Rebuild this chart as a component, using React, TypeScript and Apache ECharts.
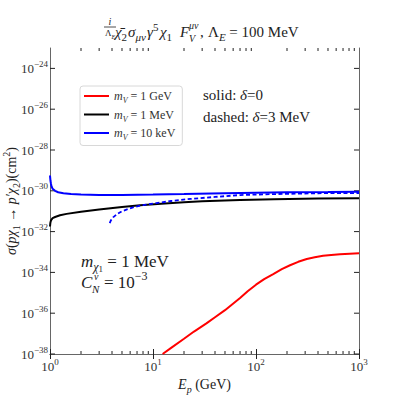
import { useEffect, useRef } from 'react';
import * as echarts from 'echarts';

const FONT = '"Liberation Serif", "DejaVu Serif", serif';
const INK = '#222';

// axis ranges
const X_MIN = 1;
const X_MAX = 1000;
const Y_MIN = 1e-38;
const Y_MAX = 1e-23;

// labelled decades on the cross-section axis
const yTickExponents = [-38, -36, -34, -32, -30, -28, -26, -24];

// minor tick positions on the energy axis
const minorTickValues = [2, 3, 4, 5, 6, 7, 8, 9, 20, 30, 40, 50, 60, 70, 80, 90, 200, 300, 400, 500, 600, 700, 800, 900];

// legend
const massLabels = ['1 GeV', '1 MeV', '10 keV'];
const seriesNames = ['m_V = 1 GeV', 'm_V = 1 MeV', 'm_V = 10 keV'];

// m_V = 1 GeV, solid (delta = 0)
const red_E = [12.4, 15, 20, 25, 33, 40, 50, 70, 83, 100, 120, 147, 178, 214, 257, 311, 372, 448, 537, 654, 813, 1000];
const red_sigma = [1e-38, 2.0e-38, 5.6e-38, 1.26e-37, 3.16e-37, 6.3e-37, 1.41e-36, 5.6e-36, 1.2e-35, 2.5e-35, 4.7e-35, 8.3e-35, 1.45e-34, 2.24e-34, 3.3e-34, 4.5e-34, 5.5e-34, 6.5e-34, 7.2e-34, 7.8e-34, 8.3e-34, 8.7e-34];

// m_V = 1 MeV, solid
const black_E = [1.0, 1.005, 1.01, 1.02, 1.03, 1.06, 1.12, 1.25, 1.45, 2, 3, 5, 7.5, 12, 20, 30, 70, 150, 400, 1000];
const black_sigma = [1.78e-32, 2.34e-32, 2.8e-32, 3.4e-32, 3.8e-32, 4.6e-32, 5.2e-32, 6.3e-32, 7.4e-32, 9.5e-32, 1.2e-31, 1.62e-31, 1.95e-31, 2.34e-31, 2.75e-31, 3.1e-31, 3.55e-31, 3.9e-31, 4.17e-31, 4.37e-31];

// m_V = 10 keV, solid
const blue_E = [1.0, 1.005, 1.01, 1.02, 1.03, 1.06, 1.12, 1.2, 1.35, 1.6, 2, 3, 5, 10, 20, 50, 100, 200, 500, 1000];
const blue_sigma = [5.6e-30, 4.2e-30, 3.2e-30, 2.35e-30, 1.8e-30, 1.26e-30, 1.0e-30, 8.5e-31, 7.6e-31, 6.9e-31, 6.6e-31, 6.3e-31, 6.3e-31, 6.5e-31, 6.9e-31, 7.6e-31, 8.1e-31, 8.5e-31, 8.7e-31, 8.9e-31];

// m_V = 10 keV, dashed (delta = 3 MeV)
const blueDashed_E = [3.8, 3.9, 4.1, 4.5, 5, 6.4, 8, 10.8, 15, 23, 40, 70, 150, 400, 1000];
const blueDashed_sigma = [2.63e-32, 3.55e-32, 5.0e-32, 7.4e-32, 1.0e-31, 1.55e-31, 2.0e-31, 2.5e-31, 3.16e-31, 4.0e-31, 5.0e-31, 6.2e-31, 6.9e-31, 7.6e-31, 7.8e-31];

const zip = (a: number[], b: number[]) => a.map((v, i) => [v, b[i]]);

function rich(size: number, color = INK, subRatio = 0.7) {
  const lh = Math.round(size * 1.4);
  const small = Math.round(size * subRatio);
  const slh = Math.round(size * 0.75);
  return {
    n: { fontFamily: FONT, fontSize: size, color, lineHeight: lh },
    i: { fontFamily: FONT, fontSize: size, color, fontStyle: 'italic', lineHeight: lh },
    s: { fontFamily: FONT, fontSize: small, color, fontStyle: 'italic', lineHeight: slh, verticalAlign: 'bottom' },
    sn: { fontFamily: FONT, fontSize: small, color, lineHeight: slh, verticalAlign: 'bottom' },
    ss: { fontFamily: FONT, fontSize: Math.round(small * 0.75), color, lineHeight: Math.round(slh * 0.7), verticalAlign: 'bottom' },
    p: { fontFamily: FONT, fontSize: small, color, lineHeight: slh, verticalAlign: 'top' },
    pi: { fontFamily: FONT, fontSize: small, color, fontStyle: 'italic', lineHeight: slh, verticalAlign: 'top' },
  };
}

function textEl(x: number, y: number, text: string, size: number, align = 'left') {
  return {
    type: 'text',
    x,
    y,
    silent: true,
    style: { text, rich: rich(size), fill: INK, font: `${size}px ${FONT}`, align, verticalAlign: 'middle' },
  };
}

export default function App() {
  const ref = useRef<HTMLDivElement>(null);
  useEffect(() => {
    if (!ref.current) return;
    const chart = echarts.init(ref.current, null, { renderer: 'svg' });
    const tickLabelRich = rich(13, '#333');
    const axisCommon = {
      axisLine: { show: true, lineStyle: { color: '#666', width: 1 } },
      axisTick: { show: true, inside: true, length: 5, lineStyle: { color: INK, width: 1 } },
      splitLine: { show: false },
      minorTick: { show: false },
    };
    const lineCommon = { type: 'line', symbol: 'none', smooth: false };
    const option: any = {
      animation: false,
      backgroundColor: '#fff',
      grid: { left: 50, right: 40, top: 48, bottom: 45, containLabel: false, outerBoundsMode: 'none' },
      xAxis: [
        {
          type: 'log',
          logBase: 10,
          min: X_MIN,
          max: X_MAX,
          position: 'bottom',
          ...axisCommon,
          axisLabel: {
            margin: 3,
            rich: tickLabelRich,
            formatter: (v: number) => `{n|10}{p|${Math.round(Math.log10(v))}}`,
          },
          name: '{i|E}{s|p}{n| (GeV)}',
          nameLocation: 'middle',
          nameGap: 20,
          nameTextStyle: { rich: rich(14) },
        },
        {
          type: 'log',
          logBase: 10,
          min: X_MIN,
          max: X_MAX,
          position: 'top',
          ...axisCommon,
          axisLabel: { show: false },
        },
      ],
      yAxis: [
        {
          type: 'log',
          logBase: 10,
          min: Y_MIN,
          max: Y_MAX,
          position: 'left',
          axisLine: axisCommon.axisLine,
          axisTick: { show: false },
          axisLabel: { show: false },
          splitLine: { show: false },
          name: '{i|σ}{n|(}{i|pχ}{sn|1}{n| → }{i|p′χ}{sn|2}{n|)(cm}{p|2}{n|)}',
          nameLocation: 'middle',
          nameGap: 29,
          nameRotate: 90,
          nameTextStyle: { rich: rich(14) },
        },
        {
          type: 'log',
          logBase: 10,
          min: Y_MIN,
          max: Y_MAX,
          position: 'right',
          axisLine: axisCommon.axisLine,
          axisTick: { show: false },
          axisLabel: { show: false },
          splitLine: { show: false },
        },
      ],
      legend: {
        left: 80,
        top: 86,
        orient: 'vertical',
        data: seriesNames,
        icon: 'rect',
        itemWidth: 25,
        itemHeight: 2,
        itemGap: 4,
        padding: [4, 7, 4, 4],
        borderColor: '#d8d8d8',
        borderWidth: 1,
        borderRadius: 3,
        backgroundColor: '#fff',
        selectedMode: false,
        formatter: (name: string) => {
          const idx = seriesNames.indexOf(name);
          return `{i|m}{s|V}{n| = ${massLabels[idx]}}`;
        },
        textStyle: { rich: rich(12, '#333') },
      },
      series: [
        {
          ...lineCommon,
          name: seriesNames[0],
          data: zip(red_E, red_sigma),
          lineStyle: { color: '#ff0000', width: 2 },
          itemStyle: { color: '#ff0000' },
        },
        {
          ...lineCommon,
          name: seriesNames[1],
          data: zip(black_E, black_sigma),
          lineStyle: { color: '#000000', width: 2 },
          itemStyle: { color: '#000000' },
        },
        {
          ...lineCommon,
          name: 'm_V = 10 keV (δ = 3 MeV)',
          data: zip(blueDashed_E, blueDashed_sigma),
          lineStyle: { color: '#0000ff', width: 1.8, type: [4, 2.5] },
          itemStyle: { color: '#0000ff' },
        },
        {
          ...lineCommon,
          name: seriesNames[2],
          data: zip(blue_E, blue_sigma),
          lineStyle: { color: '#0000ff', width: 2 },
          itemStyle: { color: '#0000ff' },
        },
        {
          name: 'x minor ticks',
          type: 'custom',
          silent: true,
          xAxisIndex: 0,
          yAxisIndex: 0,
          data: minorTickValues.map((v) => [v, Y_MIN]),
          renderItem: (params: any, api: any) => {
            const v = api.value(0);
            const b = api.coord([v, Y_MIN]);
            const t = api.coord([v, Y_MAX]);
            return {
              type: 'group',
              children: [
                { type: 'line', shape: { x1: b[0], y1: b[1], x2: b[0], y2: b[1] - 3 }, style: { stroke: INK, lineWidth: 1 } },
                { type: 'line', shape: { x1: t[0], y1: t[1], x2: t[0], y2: t[1] + 3 }, style: { stroke: INK, lineWidth: 1 } },
              ],
            };
          },
        },
        {
          name: 'y ticks',
          type: 'custom',
          silent: true,
          xAxisIndex: 0,
          yAxisIndex: 0,
          data: yTickExponents.map((e) => [X_MIN, Math.pow(10, e), e]),
          renderItem: (params: any, api: any) => {
            const yv = api.value(1);
            const e = api.value(2);
            const l = api.coord([X_MIN, yv]);
            const r = api.coord([X_MAX, yv]);
            return {
              type: 'group',
              children: [
                { type: 'line', shape: { x1: l[0], y1: l[1], x2: l[0] + 5, y2: l[1] }, style: { stroke: INK, lineWidth: 1 } },
                { type: 'line', shape: { x1: r[0], y1: r[1], x2: r[0] - 5, y2: r[1] }, style: { stroke: INK, lineWidth: 1 } },
                {
                  type: 'text',
                  x: l[0] - 2,
                  y: l[1],
                  style: {
                    text: `{n|10}{p|\u2212${-e}}`,
                    rich: tickLabelRich,
                    font: `13px ${FONT}`,
                    fill: '#333',
                    align: 'right',
                    verticalAlign: 'middle',
                  },
                },
              ],
            };
          },
        },
      ],
      graphic: [
        // title: fraction i / Lambda_E
        { type: 'text', x: 110, y: 21, silent: true, style: { text: 'i', font: `italic 10px ${FONT}`, fill: INK, align: 'center', verticalAlign: 'middle' } },
        { type: 'line', silent: true, shape: { x1: 104, y1: 27, x2: 116, y2: 27 }, style: { stroke: INK, lineWidth: 0.8 } },
        textEl(110, 33, '{n|Λ}{s|E}', 9, 'center'),
        textEl(115, 32, '{i|χ̄}{sn|2}', 15),
        textEl(128, 32, '{i|σ}{s|μν}', 15),
        textEl(147, 32, '{i|γ}{p|5}', 15),
        textEl(160, 32, '{i|χ}{sn|1}', 15),
        textEl(180, 32, '{i|F}', 15),
        textEl(189, 25, '{i|μν}', 10),
        textEl(189, 38, '{i|V}', 10),
        textEl(200, 32, '{n|,}', 15),
        textEl(208, 32, '{n|Λ}{s|E}{n| = 100 MeV}', 15),
        // annotations
        textEl(203, 95, '{n|solid: }{i|δ}{n|=0}', 15),
        textEl(203, 117, '{n|dashed: }{i|δ}{n|=3 MeV}', 15),
        textEl(81, 261, '{i|m}{s|χ}{ss|1}{n| = 1 MeV}', 17),
        textEl(81, 282, '{i|C}', 17),
        textEl(94, 276, '{i|v}', 10),
        textEl(92, 289, '{i|N}', 11),
        textEl(104, 282, '{n|= 10}{p|\u22123}', 17),
      ],
    };
    chart.setOption(option);
    return () => chart.dispose();
  }, []);
  return <div ref={ref} style={{ position: 'absolute', left: 0, top: 0, width: 399, height: 399 }} />;
}
